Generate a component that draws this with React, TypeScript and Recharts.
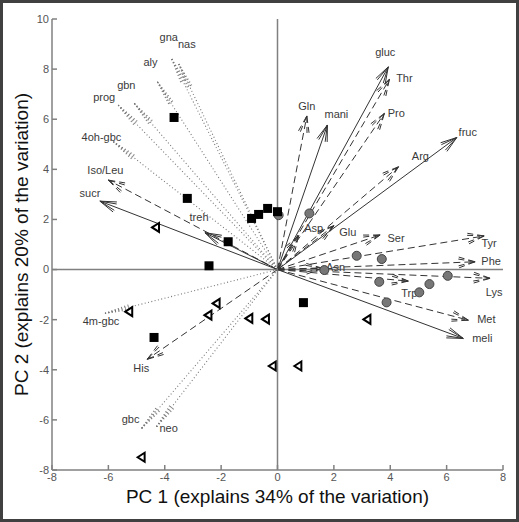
import React from "react"
import {
    ScatterChart, Scatter, XAxis, YAxis, ReferenceLine, Label
} from "recharts"

// loadings: sugars (solid), amino acids (dashed), osmolytes (dotted)
const sugarNames = ["gluc", "mani", "fruc", "sucr", "treh", "meli"]
const sugarPc1 = [3.93, 1.77, 6.36, -6.30, -2.57, 6.59]
const sugarPc2 = [8.09, 5.77, 5.27, 2.73, 1.47, -2.75]

const aminoNames = ["Thr", "Pro", "Gln", "Arg", "Asp", "Glu", "Ser", "Tyr", "Phe", "Lys", "Met", "Trp", "Asn", "His", "Iso/Leu"]
const aminoPc1 = [3.97, 3.79, 1.04, 4.29, 0.75, 2.0, 3.64, 7.33, 7.01, 7.54, 6.77, 4.64, 1.6, -4.62, -6.0]
const aminoPc2 = [7.59, 6.23, 6.13, 4.10, 1.35, 1.75, 1.38, 1.34, 0.31, -0.35, -2.02, -0.46, 0.05, -3.58, 3.57]

const osmoNames = ["gna", "nas", "aly", "gbn", "prog", "4oh-gbc", "4m-gbc", "gbc", "neo"]
const osmoPc1 = [-3.75, -3.5, -4.26, -5.08, -5.65, -5.82, -6.12, -4.82, -4.29]
const osmoPc2 = [8.4, 8.2, 7.49, 6.63, 6.56, 5.10, -1.75, -6.34, -6.27]

// sample scores
const squarePc1 = [-3.67, -3.20, -1.75, -2.43, -0.92, -0.67, -0.35, 0.0, -4.38, 0.92]
const squarePc2 = [6.07, 2.84, 1.11, 0.15, 2.04, 2.20, 2.44, 2.31, -2.71, -1.32]

const trianglePc1 = [-4.31, -5.26, -2.16, -2.45, -1.0, -0.41, -0.17, -4.82, 3.19, 0.74]
const trianglePc2 = [1.68, -1.68, -1.35, -1.82, -1.95, -1.98, -3.85, -7.49, -1.99, -3.85]

const circlePc1 = [0.04, 1.13, 2.81, 3.70, 3.61, 5.39, 5.03, 6.04, 3.87, 1.66]
const circlePc2 = [2.17, 2.24, 0.55, 0.42, -0.49, -0.58, -0.91, -0.25, -1.31, -0.02]

const xTicks = [-8, -6, -4, -2, 0, 2, 4, 6, 8]
const yTicks = [-8, -6, -4, -2, 0, 2, 4, 6, 8, 10]

// label placement relative to arrow tip (px)
const labelOffset: Record<string, [number, number]> = {
    gluc: [-3, -15], mani: [9, -11], fruc: [11, -6], sucr: [-10, -8], treh: [-6, -16], meli: [19, 0],
    Thr: [15, -1], Pro: [12, 0], Gln: [0, -10], Arg: [22, -11], Asp: [15, -8], Glu: [14, 6],
    Ser: [16, 3], Tyr: [5, 7], Phe: [16, -1], Lys: [4, 14], Met: [18, -1], Trp: [1, 12],
    Asn: [13, -1], His: [-6, 9], "Iso/Leu": [-3, -10],
    gna: [-3, -22], nas: [8, -20], aly: [-7, -20], gbn: [-8, -18], prog: [-14, -8],
    "4oh-gbc": [-12, -5], "4m-gbc": [-4, 8], gbc: [-11, -9], neo: [12, 1],
}

const lineStyles: Record<string, { dash?: string; stroke: string; width: number; barb: number; spread: number[] }> = {
    solid: { stroke: "#333", width: 1, barb: 17, spread: [0.2, 0.32] },
    dashed: { stroke: "#333", width: 1, dash: "7 4", barb: 17, spread: [0.2, 0.32] },
    dotted: { stroke: "#777", width: 1.1, dash: "1 2.4", barb: 26, spread: [0.05, 0.1] },
}

const toPoints = (xs: number[], ys: number[]) => xs.map((x, i) => ({ x, y: ys[i] }))

const arrowShape = (name: string, kind: string) => (p: any) => {
    const { x1, y1, x2, y2 } = p
    const st = lineStyles[kind]
    const ang = Math.atan2(y2 - y1, x2 - x1)
    const len = Math.hypot(x2 - x1, y2 - y1)
    const b = Math.min(st.barb, len * 0.45)
    const barbs: React.ReactNode[] = []
    st.spread.forEach((s, k) => {
        ;[1, -1].forEach((sgn) => {
            const a = ang + Math.PI + sgn * s
            barbs.push(
                <line key={`${k}${sgn}`} x1={x2} y1={y2} x2={x2 + b * Math.cos(a)} y2={y2 + b * Math.sin(a)}
                    stroke={st.stroke} strokeWidth={st.width} strokeDasharray={st.dash} />
            )
        })
    })
    const [dx, dy] = labelOffset[name] || [0, 0]
    return (
        <g>
            <line x1={x1} y1={y1} x2={x2} y2={y2} stroke={st.stroke} strokeWidth={st.width} strokeDasharray={st.dash} />
            {barbs}
            <text x={x2 + dx} y={y2 + dy} textAnchor="middle" dominantBaseline="central"
                fontSize={11} fill="#3a3a3a" fontFamily="Liberation Sans, Arial, sans-serif">{name}</text>
        </g>
    )
}

const SquareMark = (p: any) => <rect x={p.cx - 4.5} y={p.cy - 4.5} width={9} height={9} fill="#000" />
const TriangleMark = (p: any) => (
    <polygon points={`${p.cx - 4},${p.cy} ${p.cx + 3},${p.cy - 4.5} ${p.cx + 3},${p.cy + 4.5}`}
        fill="#fff" stroke="#000" strokeWidth={2} />
)
const CircleMark = (p: any) => <circle cx={p.cx} cy={p.cy} r={4.5} fill="#777" stroke="#444" strokeWidth={1} />

const font = "Liberation Sans, Arial, sans-serif"

export default function App() {
    const groups = [
        { names: sugarNames, xs: sugarPc1, ys: sugarPc2, kind: "solid" },
        { names: aminoNames, xs: aminoPc1, ys: aminoPc2, kind: "dashed" },
        { names: osmoNames, xs: osmoPc1, ys: osmoPc2, kind: "dotted" },
    ]
    return (
        <div style={{ position: "absolute", left: 0, top: 0, width: 519, height: 522, background: "#fff" }}>
            <ScatterChart width={519} height={522} margin={{ top: 19, right: 16, bottom: 0, left: 0 }}>
                <XAxis type="number" dataKey="x" domain={[-8, 8]} ticks={xTicks} allowDataOverflow
                    height={52} stroke="#808080" strokeWidth={1.5} tickSize={-5} tickMargin={8.5}
                    tick={{ fill: "#555", fontSize: 11, fontFamily: font }}>
                    <Label content={(props: any) => {
                        const vb = props.viewBox || { x: 52, y: 470, width: 451, height: 52 }
                        return (
                            <text x={vb.x + vb.width / 2} y={vb.y + 33} textAnchor="middle"
                                fontSize={19} fill="#111" fontFamily={font}>PC 1 (explains 34% of the variation)</text>
                        )
                    }} />
                </XAxis>
                <YAxis type="number" dataKey="y" domain={[-8, 10]} ticks={yTicks} allowDataOverflow
                    width={52} stroke="#808080" strokeWidth={1.5} tickSize={-5} tickMargin={8}
                    tick={{ fill: "#555", fontSize: 11, fontFamily: font }}>
                    <Label content={(props: any) => {
                        const vb = props.viewBox || { x: 0, y: 19, width: 52, height: 451 }
                        const cx = 21
                        const cy = vb.y + vb.height / 2
                        return (
                            <text x={cx} y={cy} transform={`rotate(-90 ${cx} ${cy})`} textAnchor="middle"
                                dominantBaseline="central" fontSize={19} fill="#111" fontFamily={font}>
                                PC 2 (explains 20% of the variation)
                            </text>
                        )
                    }} />
                </YAxis>
                <ReferenceLine x={0} stroke="#808080" strokeWidth={1.5} />
                <ReferenceLine y={0} stroke="#808080" strokeWidth={1.5} />
                {groups.flatMap((g) =>
                    g.names.map((n, i) => (
                        <ReferenceLine key={n} ifOverflow="visible"
                            segment={[{ x: 0, y: 0 }, { x: g.xs[i], y: g.ys[i] }]}
                            shape={arrowShape(n, g.kind)} />
                    ))
                )}
                <Scatter data={toPoints(circlePc1, circlePc2)} shape={CircleMark} isAnimationActive={false} />
                <Scatter data={toPoints(squarePc1, squarePc2)} shape={SquareMark} isAnimationActive={false} />
                <Scatter data={toPoints(trianglePc1, trianglePc2)} shape={TriangleMark} isAnimationActive={false} />
            </ScatterChart>
            <div style={{ position: "absolute", inset: 0, border: "3px solid #404040", pointerEvents: "none" }} />
        </div>
    )
}
